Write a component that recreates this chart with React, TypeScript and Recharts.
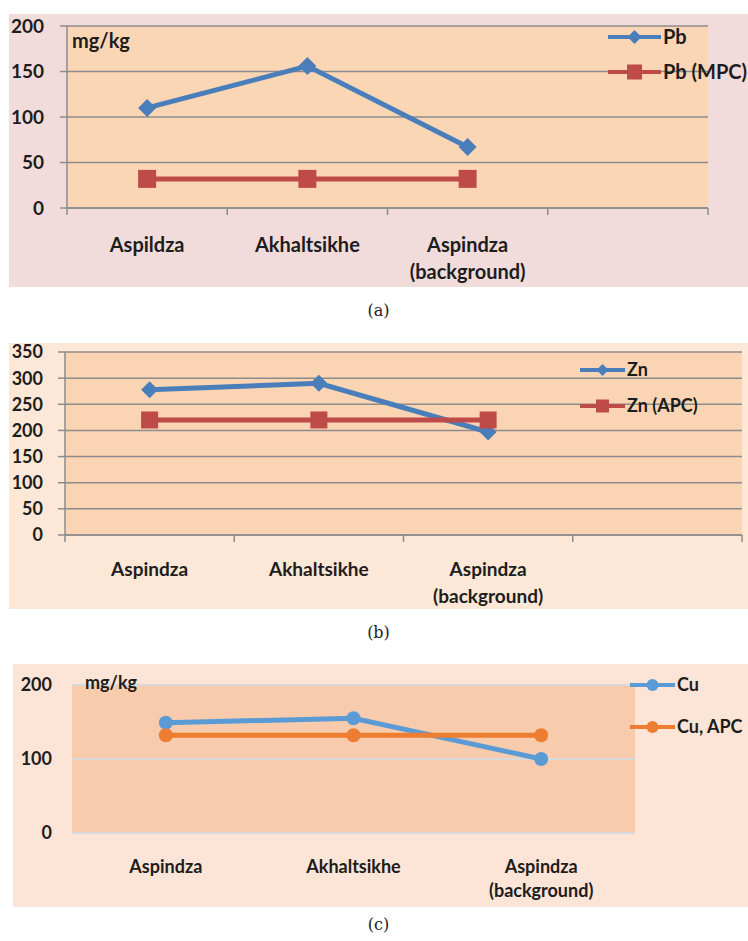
import React from "react";
import { CartesianGrid, Legend, Line, LineChart, XAxis, YAxis } from "recharts";

// (a) lead
const pbSites = ["Aspildza", "Akhaltsikhe", "Aspindza (background)"];
const pbValues = [110, 156, 67];
const pbMpcValues = [32, 32, 32];
const pbTicks = [0, 50, 100, 150, 200];

// (b) zinc
const znSites = ["Aspindza", "Akhaltsikhe", "Aspindza (background)"];
const znValues = [278, 290, 197];
const znApcValues = [220, 220, 220];
const znTicks = [0, 50, 100, 150, 200, 250, 300, 350];

// (c) copper
const cuSites = ["Aspindza", "Akhaltsikhe", "Aspindza (background)"];
const cuValues = [149, 155, 100];
const cuApcValues = [132, 132, 132];
const cuTicks = [0, 100, 200];

// four slots on the x axis of (a) and (b), the last one empty
const slotBounds = [0, 1, 2, 3, 4];
const slotCenters = [0.5, 1.5, 2.5];

const FONT = "Lato, 'Open Sans', sans-serif";
const TEXT = "#1d1d1d";
const GRID = "#8c8c8c";

function buildRows(sites: string[], main: number[], limit: number[]) {
  return sites.map((site, i) => ({ pos: i + 0.5, site, main: main[i], limit: limit[i] }));
}

function splitLabel(s: string) {
  const i = s.indexOf(" (");
  return i < 0 ? [s] : [s.slice(0, i), s.slice(i + 1)];
}

function SiteText({ x, y, label, fontSize, firstDy, lineGap }: any) {
  return (
    <text x={x} y={y} textAnchor="middle" fontFamily={FONT} fontWeight={700} fontSize={fontSize} fill={TEXT}>
      {splitLabel(label).map((l, i) => (
        <tspan key={i} x={x} dy={i === 0 ? firstDy : lineGap}>
          {l}
        </tspan>
      ))}
    </text>
  );
}

// tick marks at slot bounds, labels at slot centres
const slotTick = (sites: string[], fontSize: number, firstDy: number, lineGap: number, marks = true) => (props: any) => {
  const { x, y, payload } = props;
  const v = payload.value;
  if (Number.isInteger(v)) {
    return marks ? <line x1={x} x2={x} y1={y - 7} y2={y} stroke={GRID} strokeWidth={1.5} /> : <g />;
  }
  return <SiteText x={x} y={y} label={sites[Math.floor(v)]} fontSize={fontSize} firstDy={firstDy} lineGap={lineGap} />;
};

function marker(type: string, cx: number, cy: number, r: number, fill: string, key?: any) {
  if (type === "diamond") {
    return <polygon key={key} points={`${cx},${cy - r} ${cx + r},${cy} ${cx},${cy + r} ${cx - r},${cy}`} fill={fill} />;
  }
  if (type === "square") {
    return <rect key={key} x={cx - r} y={cy - r} width={r * 2} height={r * 2} fill={fill} />;
  }
  return <circle key={key} cx={cx} cy={cy} r={r} fill={fill} />;
}

const dot = (type: string, r: number, fill: string) => (props: any) => {
  const { cx, cy, index } = props;
  if (cx == null || cy == null) return <g key={index} />;
  return marker(type, cx, cy, r, fill, index);
};

type LegendOpts = { lineW: number; rowY: number[]; fontSize: number; r: Record<string, number>; width: number; height: number };

const legendContent = (o: LegendOpts) => (props: any) => {
  const items = props.payload || [];
  return (
    <svg width={o.width} height={o.height} style={{ display: "block", overflow: "visible" }}>
      {items.map((it: any, i: number) => {
        const y = o.rowY[i];
        return (
          <g key={i}>
            <line x1={0} x2={o.lineW} y1={y} y2={y} stroke={it.color} strokeWidth={4} />
            {marker(it.type, o.lineW / 2, y, o.r[it.type] ?? 6, it.color)}
            <text x={o.lineW + 2} y={y} dy="0.36em" fontFamily={FONT} fontWeight={700} fontSize={o.fontSize} fill={TEXT}>
              {it.value}
            </text>
          </g>
        );
      })}
    </svg>
  );
};

const pbRows = buildRows(pbSites, pbValues, pbMpcValues);
const znRows = buildRows(znSites, znValues, znApcValues);
const cuRows = buildRows(cuSites, cuValues, cuApcValues);

const caption: React.CSSProperties = {
  position: "absolute",
  left: 0,
  width: 757,
  textAlign: "center",
  fontFamily: "'DejaVu Serif', serif",
  fontSize: 16,
  color: "#222",
  lineHeight: "20px",
};

export default function App() {
  return (
    <div style={{ position: "absolute", left: 0, top: 0, width: 748, height: 941, background: "#fff", overflow: "hidden" }}>
      {/* (a) */}
      <div style={{ position: "absolute", left: 9, top: 14, width: 739, height: 273, background: "#f1dcdb" }}>
        <LineChart width={739} height={273} data={pbRows} margin={{ top: 12, right: 40, bottom: 0, left: 0 }}>
          <CartesianGrid vertical={false} stroke={GRID} strokeWidth={1.5} fill="#fbd6b5" />
          <XAxis
            dataKey="pos"
            type="number"
            domain={[0, 4]}
            ticks={[...slotBounds, ...slotCenters]}
            interval={0}
            height={79}
            tickSize={7}
            tickMargin={0}
            tickLine={false}
            axisLine={{ stroke: GRID, strokeWidth: 1.5 }}
            tick={slotTick(pbSites, 20, 37, 27)}
          />
          <YAxis
            domain={[0, 200]}
            ticks={pbTicks}
            interval={0}
            width={58}
            tickSize={7}
            tickMargin={16}
            axisLine={{ stroke: GRID, strokeWidth: 1.5 }}
            tickLine={{ stroke: GRID, strokeWidth: 1.5 }}
            tick={{ fill: TEXT, fontSize: 19, fontWeight: 700, fontFamily: FONT }}
          />
          <Legend
            layout="vertical"
            align="center"
            verticalAlign="middle"
            wrapperStyle={{ left: 599, top: 11, width: 150, height: 70 }}
            content={legendContent({ lineW: 53, rowY: [12, 47], fontSize: 20, r: { diamond: 7, square: 7.5 }, width: 150, height: 70 })}
          />
          <Line
            dataKey="main"
            name="Pb"
            stroke="#4a7ebb"
            strokeWidth={5}
            legendType="diamond"
            dot={dot("diamond", 9, "#4a7ebb")}
            activeDot={false}
            isAnimationActive={false}
          />
          <Line
            dataKey="limit"
            name="Pb (MPC)"
            stroke="#be4b48"
            strokeWidth={5}
            legendType="square"
            dot={dot("square", 9, "#be4b48")}
            activeDot={false}
            isAnimationActive={false}
          />
        </LineChart>
        <div style={{ position: "absolute", left: 63, top: 16, fontFamily: FONT, fontWeight: 700, fontSize: 20, lineHeight: "20px", color: TEXT }}>
          mg/kg
        </div>
      </div>
      <div style={{ ...caption, top: 301 }}>(a)</div>

      {/* (b) - chart starts 10px above the box so the top tick label is not clipped */}
      <div style={{ position: "absolute", left: 9, top: 343, width: 739, height: 266, background: "#fde7d6" }}>
        <div style={{ position: "absolute", left: 0, top: -10 }}>
          <LineChart width={739} height={276} data={znRows} margin={{ top: 19, right: 6, bottom: 0, left: 0 }}>
            <CartesianGrid vertical={false} stroke={GRID} strokeWidth={1.5} fill="#fbd5b3" />
            <XAxis
              dataKey="pos"
              type="number"
              domain={[0, 4]}
              ticks={[...slotBounds, ...slotCenters]}
              interval={0}
              height={74}
              tickSize={7}
              tickMargin={0}
              tickLine={false}
              axisLine={{ stroke: GRID, strokeWidth: 1.5 }}
              tick={slotTick(znSites, 19, 34, 27)}
            />
            <YAxis
              domain={[0, 350]}
              ticks={znTicks}
              interval={0}
              width={56}
              tickSize={7}
              tickMargin={15}
              axisLine={{ stroke: GRID, strokeWidth: 1.5 }}
              tickLine={{ stroke: GRID, strokeWidth: 1.5 }}
              tick={{ fill: TEXT, fontSize: 18, fontWeight: 700, fontFamily: FONT }}
            />
            <Legend
              layout="vertical"
              align="center"
              verticalAlign="middle"
              wrapperStyle={{ left: 571, top: 25, width: 150, height: 70 }}
              content={legendContent({ lineW: 45, rowY: [12, 48], fontSize: 18, r: { diamond: 6, square: 6.5 }, width: 150, height: 70 })}
            />
            <Line
              dataKey="main"
              name="Zn"
              stroke="#4a7ebb"
              strokeWidth={5}
              legendType="diamond"
              dot={dot("diamond", 8.5, "#4a7ebb")}
              activeDot={false}
              isAnimationActive={false}
            />
            <Line
              dataKey="limit"
              name="Zn (APC)"
              stroke="#be4b48"
              strokeWidth={5}
              legendType="square"
              dot={dot("square", 8.5, "#be4b48")}
              activeDot={false}
              isAnimationActive={false}
            />
          </LineChart>
        </div>
      </div>
      <div style={{ ...caption, top: 623 }}>(b)</div>

      {/* (c) */}
      <div style={{ position: "absolute", left: 13, top: 664, width: 735, height: 243, background: "#fce4d6" }}>
        <LineChart width={735} height={243} data={cuRows} margin={{ top: 21, right: 113, bottom: 0, left: 0 }}>
          <CartesianGrid vertical={false} stroke="#d9d9d9" strokeWidth={2} fill="#f8cbad" />
          <XAxis
            dataKey="pos"
            type="number"
            domain={[0, 3]}
            ticks={slotCenters}
            interval={0}
            height={74}
            tickSize={0}
            tickMargin={0}
            tickLine={false}
            axisLine={false}
            tick={slotTick(cuSites, 18, 40, 24, false)}
          />
          <YAxis
            domain={[0, 200]}
            ticks={cuTicks}
            interval={0}
            width={59}
            tickSize={0}
            tickMargin={20}
            axisLine={false}
            tickLine={false}
            tick={{ fill: TEXT, fontSize: 18, fontWeight: 700, fontFamily: FONT }}
          />
          <Legend
            layout="vertical"
            align="center"
            verticalAlign="middle"
            wrapperStyle={{ left: 617, top: 9, width: 130, height: 75 }}
            content={legendContent({ lineW: 45, rowY: [12, 54], fontSize: 18, r: { circle: 6 }, width: 130, height: 75 })}
          />
          <Line
            dataKey="main"
            name="Cu"
            stroke="#5b9bd5"
            strokeWidth={5}
            legendType="circle"
            dot={dot("circle", 7, "#5b9bd5")}
            activeDot={false}
            isAnimationActive={false}
          />
          <Line
            dataKey="limit"
            name="Cu, APC"
            stroke="#ed7d31"
            strokeWidth={5}
            legendType="circle"
            dot={dot("circle", 7, "#ed7d31")}
            activeDot={false}
            isAnimationActive={false}
          />
        </LineChart>
        <div style={{ position: "absolute", left: 72, top: 9, fontFamily: FONT, fontWeight: 700, fontSize: 18, lineHeight: "18px", color: TEXT }}>
          mg/kg
        </div>
      </div>
      <div style={{ ...caption, top: 915 }}>(c)</div>
    </div>
  );
}
